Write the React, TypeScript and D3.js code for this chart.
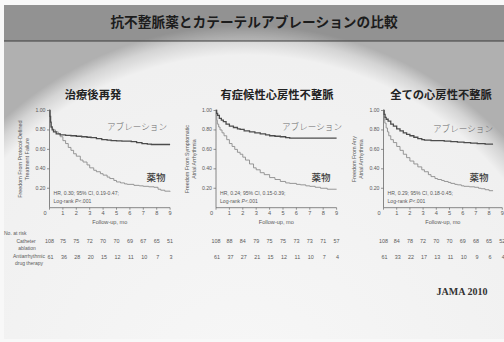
import React from "react";
import * as d3 from "d3";

const W = 504;
const H = 342;

const MAIN_TITLE = "抗不整脈薬とカテーテルアブレーションの比較";
const PANEL_TITLES = ["治療後再発", "有症候性心房性不整脈", "全ての心房性不整脈"];
const Y_TITLES = [
  ["Freedom From Protocol-Defined", "Treatment Failure"],
  ["Freedom From Symptomatic", "Atrial Arrhythmia"],
  ["Freedom From Any", "Atrial Arrhythmia"],
];
const HR_TEXTS = [
  "HR, 0.30; 95% CI, 0.19-0.47;",
  "HR, 0.24; 95% CI, 0.15-0.39;",
  "HR, 0.29; 95% CI, 0.18-0.45;",
];
const ABLATION_LABEL = "アブレーション";
const DRUG_LABEL = "薬物";
const X_TITLE = "Follow-up, mo";
const SOURCE = "JAMA 2010";

const MONTH_TICKS = [0, 1, 2, 3, 4, 5, 6, 7, 8, 9];
const SURV_TICKS = [0.2, 0.4, 0.6, 0.8, 1.0];

// Number at risk per month
const AT_RISK_ABLATION = [
  [108, 75, 75, 72, 70, 70, 69, 67, 65, 51],
  [108, 88, 84, 79, 75, 75, 73, 73, 71, 57],
  [108, 84, 78, 72, 70, 70, 69, 68, 65, 52],
];
const AT_RISK_DRUG = [
  [61, 36, 28, 20, 15, 12, 11, 10, 7, 3],
  [61, 37, 27, 21, 15, 12, 11, 10, 7, 4],
  [61, 33, 22, 17, 13, 11, 10, 9, 6, 4],
];

// Kaplan-Meier estimates: [month, survival]
const ABLATION_RELAPSE: [number, number][] = [
  [0, 1], [0.04, 0.94], [0.08, 0.88], [0.12, 0.83], [0.2, 0.8], [0.3, 0.78], [0.5, 0.76],
  [0.8, 0.75], [1.2, 0.745], [1.6, 0.74], [2.0, 0.735], [2.4, 0.73], [2.8, 0.725], [3.1, 0.72],
  [3.5, 0.71], [3.9, 0.7], [4.3, 0.695], [4.6, 0.69], [5.0, 0.688], [5.4, 0.685], [6.1, 0.68],
  [6.5, 0.67], [6.9, 0.66], [7.3, 0.655], [7.6, 0.65], [9.0, 0.65],
];
const DRUG_RELAPSE: [number, number][] = [
  [0, 1], [0.04, 0.94], [0.08, 0.88], [0.12, 0.83], [0.2, 0.81], [0.3, 0.8], [0.45, 0.78],
  [0.65, 0.76], [0.8, 0.73], [1.0, 0.69], [1.2, 0.66], [1.4, 0.62], [1.6, 0.59], [1.8, 0.555],
  [2.0, 0.53], [2.3, 0.49], [2.5, 0.47], [2.8, 0.44], [3.0, 0.41], [3.3, 0.385], [3.5, 0.37],
  [3.8, 0.35], [4.0, 0.335], [4.3, 0.315], [4.5, 0.3], [4.8, 0.28], [5.0, 0.265], [5.3, 0.255],
  [5.6, 0.245], [5.8, 0.24], [6.3, 0.23], [6.7, 0.225], [7.0, 0.22], [7.4, 0.215], [7.8, 0.21],
  [8.1, 0.19], [8.3, 0.18], [8.6, 0.17], [9.0, 0.165],
];
const ABLATION_SYMPTOMATIC: [number, number][] = [
  [0, 1], [0.05, 0.97], [0.12, 0.95], [0.25, 0.92], [0.4, 0.9], [0.55, 0.885], [0.75, 0.86],
  [1.0, 0.84], [1.3, 0.825], [1.6, 0.81], [1.8, 0.805], [2.1, 0.79], [2.5, 0.78], [2.9, 0.77],
  [3.3, 0.76], [3.7, 0.75], [4.0, 0.74], [4.4, 0.735], [4.8, 0.73], [5.2, 0.72], [5.5, 0.715],
  [9.0, 0.715],
];
const DRUG_SYMPTOMATIC: [number, number][] = [
  [0, 1], [0.03, 0.95], [0.06, 0.9], [0.1, 0.86], [0.2, 0.83], [0.3, 0.8], [0.45, 0.77],
  [0.6, 0.74], [0.8, 0.7], [1.0, 0.66], [1.2, 0.63], [1.4, 0.6], [1.6, 0.57], [1.8, 0.55],
  [2.0, 0.52], [2.2, 0.49], [2.5, 0.45], [2.8, 0.41], [3.0, 0.39], [3.3, 0.36], [3.6, 0.34],
  [4.0, 0.31], [4.4, 0.29], [4.8, 0.27], [5.2, 0.255], [5.5, 0.25], [6.0, 0.24], [6.3, 0.235],
  [6.7, 0.225], [7.0, 0.22], [7.4, 0.21], [7.8, 0.2], [8.3, 0.19], [9.0, 0.19],
];
const ABLATION_ANY: [number, number][] = [
  [0, 1], [0.05, 0.96], [0.12, 0.93], [0.2, 0.91], [0.35, 0.89], [0.55, 0.86], [0.75, 0.84],
  [1.0, 0.81], [1.25, 0.79], [1.5, 0.77], [1.75, 0.755], [2.0, 0.74], [2.3, 0.725], [2.6, 0.71],
  [2.9, 0.7], [3.1, 0.695], [3.6, 0.69], [4.1, 0.69], [4.6, 0.685], [5.1, 0.68], [5.6, 0.675],
  [6.1, 0.67], [6.6, 0.665], [7.1, 0.66], [7.7, 0.655], [8.3, 0.655],
];
const DRUG_ANY: [number, number][] = [
  [0, 1], [0.03, 0.94], [0.06, 0.9], [0.1, 0.87], [0.2, 0.82], [0.3, 0.78], [0.4, 0.74],
  [0.55, 0.7], [0.75, 0.67], [1.0, 0.63], [1.25, 0.59], [1.5, 0.55], [1.75, 0.515], [2.0, 0.48],
  [2.3, 0.45], [2.6, 0.42], [2.9, 0.39], [3.1, 0.37], [3.4, 0.34], [3.6, 0.32], [3.9, 0.3],
  [4.1, 0.29], [4.4, 0.28], [4.6, 0.27], [4.9, 0.26], [5.1, 0.25], [5.4, 0.24], [5.6, 0.235],
  [5.9, 0.225], [6.1, 0.22], [6.5, 0.215], [6.9, 0.21], [7.2, 0.2], [7.4, 0.195], [7.7, 0.185],
  [8.0, 0.175], [8.3, 0.175],
];

const ABLATION_CURVES = [ABLATION_RELAPSE, ABLATION_SYMPTOMATIC, ABLATION_ANY];
const DRUG_CURVES = [DRUG_RELAPSE, DRUG_SYMPTOMATIC, DRUG_ANY];

// Panel layout
const AXIS_X = [49.5, 216, 383.5];
const MONTH_STEP = [13.4, 13.4, 13.2];
const ABL_LABEL_POS = [[137, 128], [312, 128], [463, 130]];
const DRUG_LABEL_POS = [[156, 178], [321, 178], [479, 178]];
const PANEL_TITLE_X = [93, 277, 441];
const Y_TOP = 110.5;
const Y_BOTTOM = 207.7;

const SANS = "'Liberation Sans', Arial, sans-serif";
const CJK = "'Noto Sans CJK JP', 'Noto Sans CJK SC', sans-serif";
const SERIF = "'Liberation Serif', 'DejaVu Serif', serif";

function Panel({ i }: { i: number }) {
  const x0 = AXIS_X[i];
  const x = d3.scaleLinear().domain([0, 9]).range([x0, x0 + 9 * MONTH_STEP[i]]);
  const y = d3.scaleLinear().domain([0, 1]).range([Y_BOTTOM, Y_TOP]);
  const line = d3
    .line<[number, number]>()
    .x((d) => x(d[0]))
    .y((d) => y(d[1]))
    .curve(d3.curveStepAfter);
  const axisColor = "#6a6a6a";
  const tickText = "#5a5a5a";
  const yMid = (Y_TOP + Y_BOTTOM) / 2;
  return (
    <g>
      <text
        x={PANEL_TITLE_X[i]}
        y={96}
        textAnchor="middle"
        dominantBaseline="middle"
        fontFamily={CJK}
        fontWeight={700}
        fontSize={11.3}
        fill="#222"
      >
        {PANEL_TITLES[i]}
      </text>
      {/* y axis */}
      <line x1={x0} x2={x0} y1={Y_TOP - 1} y2={Y_BOTTOM} stroke={axisColor} strokeWidth={0.8} />
      {SURV_TICKS.map((t) => (
        <g key={t}>
          <line x1={x0 - 2.5} x2={x0} y1={y(t)} y2={y(t)} stroke={axisColor} strokeWidth={0.7} />
          <text
            x={x0 - 4}
            y={y(t)}
            textAnchor="end"
            dominantBaseline="middle"
            fontFamily={SANS}
            fontSize={5.2}
            fill={tickText}
          >
            {t.toFixed(2)}
          </text>
        </g>
      ))}
      {/* x axis */}
      <line x1={x0} x2={x(9)} y1={Y_BOTTOM} y2={Y_BOTTOM} stroke={axisColor} strokeWidth={0.8} />
      {MONTH_TICKS.map((m) => (
        <g key={m}>
          <line x1={x(m)} x2={x(m)} y1={Y_BOTTOM} y2={Y_BOTTOM + 2} stroke={axisColor} strokeWidth={0.7} />
          <text
            x={x(m) + (m === 0 ? -4.5 : 0)}
            y={214}
            textAnchor="middle"
            dominantBaseline="middle"
            fontFamily={SANS}
            fontSize={5.6}
            fill={tickText}
          >
            {m}
          </text>
        </g>
      ))}
      <text
        x={x(4.5)}
        y={223}
        textAnchor="middle"
        dominantBaseline="middle"
        fontFamily={SANS}
        fontSize={5.6}
        fill={tickText}
      >
        {X_TITLE}
      </text>
      {/* y axis title */}
      {Y_TITLES[i].map((s, k) => (
        <text
          key={k}
          transform={`translate(${x0 - 28.5 + k * 7},${yMid}) rotate(-90)`}
          textAnchor="middle"
          dominantBaseline="middle"
          fontFamily={SANS}
          fontSize={5.4}
          fill={tickText}
        >
          {s}
        </text>
      ))}
      {/* survival curves */}
      <path d={line(DRUG_CURVES[i]) || ""} fill="none" stroke="#8c8c8c" strokeWidth={0.9} />
      <path d={line(ABLATION_CURVES[i]) || ""} fill="none" stroke="#4c4c4c" strokeWidth={1.3} />
      <text
        x={ABL_LABEL_POS[i][0]}
        y={ABL_LABEL_POS[i][1]}
        textAnchor="middle"
        dominantBaseline="middle"
        fontFamily={CJK}
        fontWeight={300}
        fontSize={8.6}
        fill="#6a6a6a"
      >
        {ABLATION_LABEL}
      </text>
      <text
        x={DRUG_LABEL_POS[i][0]}
        y={DRUG_LABEL_POS[i][1]}
        textAnchor="middle"
        dominantBaseline="middle"
        fontFamily={CJK}
        fontWeight={500}
        fontSize={9.5}
        fill="#3a3a3a"
      >
        {DRUG_LABEL}
      </text>
      {/* hazard ratio */}
      <text x={x0 + 4} y={194} dominantBaseline="middle" fontFamily={SANS} fontSize={5.1} fill={tickText}>
        {HR_TEXTS[i]}
      </text>
      <text x={x0 + 4} y={202} dominantBaseline="middle" fontFamily={SANS} fontSize={5.1} fill={tickText}>
        {"Log-rank "}
        <tspan fontStyle="italic">P</tspan>
        {"<.001"}
      </text>
      {/* number at risk */}
      {AT_RISK_ABLATION[i].map((n, k) => (
        <text
          key={"a" + k}
          x={x(k)}
          y={242}
          textAnchor="middle"
          dominantBaseline="middle"
          fontFamily={SANS}
          fontSize={5.4}
          fill={tickText}
        >
          {n}
        </text>
      ))}
      {AT_RISK_DRUG[i].map((n, k) => (
        <text
          key={"d" + k}
          x={x(k) + 1}
          y={258}
          textAnchor="middle"
          dominantBaseline="middle"
          fontFamily={SANS}
          fontSize={5.4}
          fill={tickText}
        >
          {n}
        </text>
      ))}
    </g>
  );
}

export default function App() {
  const tickText = "#5a5a5a";
  return (
    <svg
      width={W}
      height={H}
      viewBox={`0 0 ${W} ${H}`}
      style={{ position: "fixed", left: 0, top: 0, display: "block" }}
    >
      <defs>
        <radialGradient
          id="slideGlow"
          gradientUnits="userSpaceOnUse"
          cx={0}
          cy={0}
          r={1}
          gradientTransform="translate(245,400) scale(365,375)"
        >
          <stop offset="0" stopColor="#f7f7f7" />
          <stop offset="0.92" stopColor="#f0f0f0" />
          <stop offset="0.965" stopColor="#d4d4d4" />
          <stop offset="1" stopColor="#b0b0b0" />
        </radialGradient>
      </defs>
      <rect x={0} y={0} width={W} height={H} fill="#f8f8f8" />
      <rect x={4} y={5} width={W - 4} height={H - 8} fill="url(#slideGlow)" />
      {/* header band */}
      <rect x={4} y={5} width={W - 4} height={36} fill="#000" opacity={0.17} />
      <line x1={4} x2={W} y1={41} y2={41} stroke="#3c3c3c" strokeWidth={1} />
      <text
        x={254}
        y={23}
        textAnchor="middle"
        dominantBaseline="middle"
        fontFamily={CJK}
        fontWeight={700}
        fontSize={13.7}
        fill="#1c1c1c"
      >
        {MAIN_TITLE}
      </text>

      {[0, 1, 2].map((i) => (
        <Panel key={i} i={i} />
      ))}

      {/* number-at-risk row labels */}
      <g fontFamily={SANS} fontSize={5} fill={tickText}>
        <text x={4} y={234} dominantBaseline="middle">No. at risk</text>
        <text x={26} y={242} textAnchor="middle" dominantBaseline="middle">Catheter</text>
        <text x={27} y={249} textAnchor="middle" dominantBaseline="middle">ablation</text>
        <text x={29} y={257} textAnchor="middle" dominantBaseline="middle">Antiarrhythmic</text>
        <text x={29} y={264} textAnchor="middle" dominantBaseline="middle">drug therapy</text>
      </g>

      <text
        x={462}
        y={293}
        textAnchor="middle"
        dominantBaseline="middle"
        fontFamily={SERIF}
        fontWeight={700}
        fontSize={10}
        fill="#333"
      >
        {SOURCE}
      </text>
    </svg>
  );
}
